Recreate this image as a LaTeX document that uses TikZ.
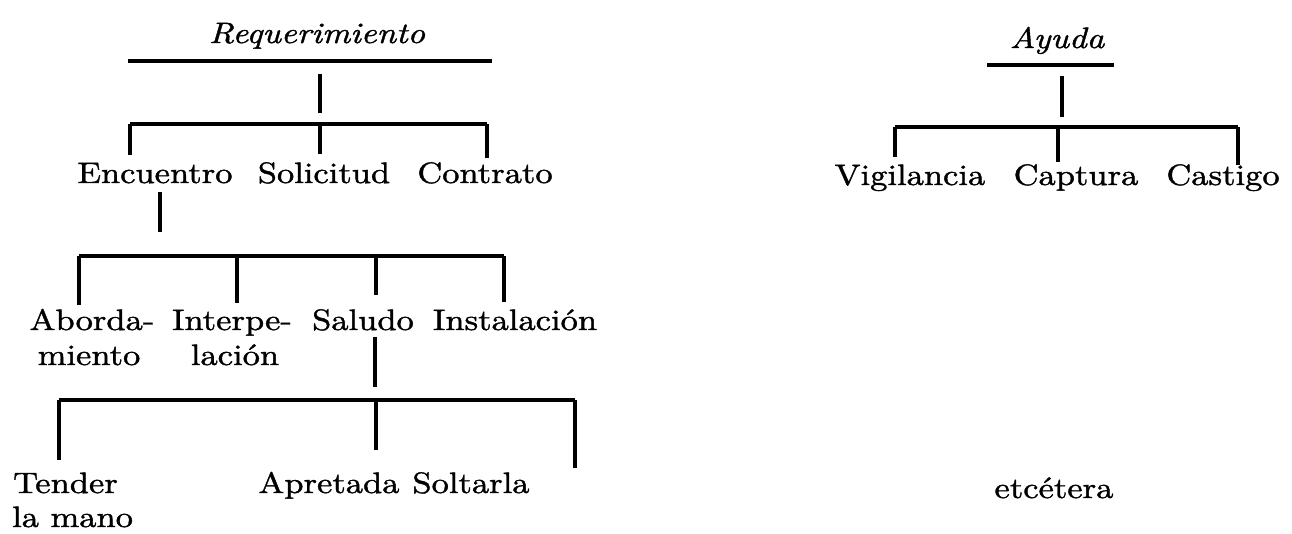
\documentclass[tikz,border=0pt]{standalone}
\usepackage{fontspec}
\setmainfont{lmroman10-regular.otf}[ItalicFont=lmroman10-italic.otf, FakeStretch=1.17, FakeBold=1.3]
\begin{document}
\begin{tikzpicture}[x=1pt,y=-1pt,
  lbl/.style={anchor=base, inner sep=0pt, font=\fontsize{29.5}{35}\selectfont},
  ttl/.style={lbl, font=\fontsize{29.5}{35}\selectfont\itshape},
  bar/.style={line width=3.6pt},
  drop/.style={line width=3.2pt}]
\useasboundingbox[fill=white] (0,0) rectangle (1292,534);

% ---------- left tree: texts ----------
\node[ttl] (req) at (317,43) {Requerimiento};
\node[lbl] (enc) at (155,183) {Encuentro};
\node[lbl] (sol) at (324,183) {Solicitud};
\node[lbl] (con) at (485,183) {Contrato};
\node[lbl] (abo) at (92,330) {Aborda-};
\node[lbl] (abo2) at (89,365) {miento};
\node[lbl] (int) at (232,330) {Interpe-};
\node[lbl] (int2) at (235,365) {lación};
\node[lbl] (sal) at (363,330) {Saludo};
\node[lbl] (ins) at (515,330) {Instalación};
\node[lbl, anchor=base west] (ten) at (13,493) {Tender};
\node[lbl, anchor=base west] (ten2) at (12,527) {la mano};
\node[lbl] (apr) at (329,493) {Apretada};
\node[lbl] (sol2) at (471,493) {Soltarla};

% ---------- right tree: texts ----------
\node[ttl] (ayu) at (1057,48) {Ayuda};
\node[lbl] (vig) at (910,185) {Vigilancia};
\node[lbl] (cap) at (1076,185) {Captura};
\node[lbl] (cas) at (1223,185) {Castigo};
\node[lbl] (etc) at (1054,498) {etcétera};

% ---------- left tree: lines ----------
\coordinate (reqL) at (128,61);
\coordinate (reqR) at (492,61);
\coordinate (reqD) at (320,74);
\coordinate (reqJ) at (320,113);
\coordinate (b1L) at (130,124);
\coordinate (b1M) at (320,124);
\coordinate (b1R) at (487,124);
\coordinate (encT) at (130,155);
\coordinate (solT) at (320,154);
\coordinate (conT) at (487,158);
\draw[bar] (reqL) -- (reqR);
\draw[drop] (reqD) -- (reqJ);
\draw[bar] (b1L) -- (b1R);
\draw[drop] (b1L) -- (encT);
\draw[drop] (b1M) -- (solT);
\draw[drop] (b1R) -- (conT);

\coordinate (encD) at (160,192);
\coordinate (encJ) at (160,232);
\coordinate (b2A) at (79,256);
\coordinate (b2B) at (237,256);
\coordinate (b2C) at (376,256);
\coordinate (b2D) at (504,256);
\coordinate (aboT) at (79,305);
\coordinate (intT) at (237,303);
\coordinate (salT) at (376,295);
\coordinate (insT) at (504,302);
\draw[drop] (encD) -- (encJ);
\draw[bar] (b2A) -- (b2D);
\draw[drop] (b2A) -- (aboT);
\draw[drop] (b2B) -- (intT);
\draw[drop] (b2C) -- (salT);
\draw[drop] (b2D) -- (insT);

\coordinate (salD) at (375,337);
\coordinate (salJ) at (375,387);
\coordinate (b3A) at (59,400);
\coordinate (b3B) at (376,400);
\coordinate (b3C) at (575,400);
\coordinate (tenT) at (59,460);
\coordinate (aprT) at (376,450);
\coordinate (sltT) at (575,468);
\draw[drop] (salD) -- (salJ);
\draw[bar] (b3A) -- (b3C);
\draw[drop] (b3A) -- (tenT);
\draw[drop] (b3B) -- (aprT);
\draw[drop] (b3C) -- (sltT);

% ---------- right tree: lines ----------
\coordinate (ayuL) at (987,65);
\coordinate (ayuR) at (1114,65);
\coordinate (ayuD) at (1062,76);
\coordinate (ayuJ) at (1062,117);
\coordinate (b4A) at (895,127);
\coordinate (b4B) at (1058,127);
\coordinate (b4C) at (1238,127);
\coordinate (vigT) at (895,157);
\coordinate (capT) at (1058,162);
\coordinate (casT) at (1238,165);
\draw[bar] (ayuL) -- (ayuR);
\draw[drop] (ayuD) -- (ayuJ);
\draw[bar] (b4A) -- (b4C);
\draw[drop] (b4A) -- (vigT);
\draw[drop] (b4B) -- (capT);
\draw[drop] (b4C) -- (casT);
\end{tikzpicture}
\end{document}
